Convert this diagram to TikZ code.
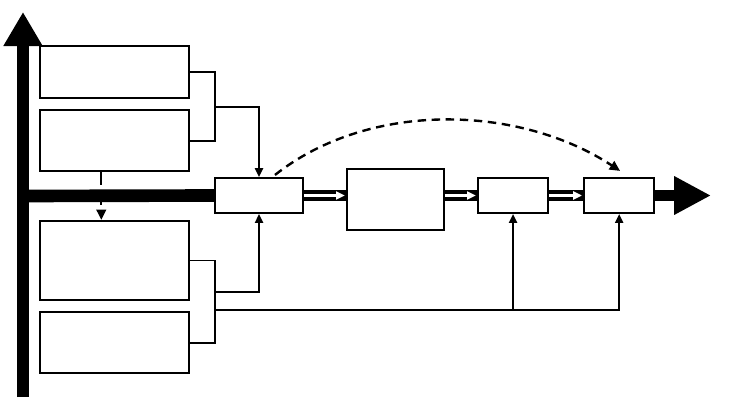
\documentclass[tikz,border=0pt]{standalone}
\usepackage{tikz}
\usetikzlibrary{arrows.meta,positioning,calc}
\tikzset{
  blk/.style={draw, line width=1.5pt, fill=white, inner sep=0pt},
  lbox/.style={blk, minimum width=3.725cm},
  sbox/.style={blk, minimum height=0.875cm},
  wire/.style={line width=1.4pt},
  feed/.style={-{Triangle[length=2.2mm, width=2mm]}, line width=1.4pt},
  axis/.style={line width=9pt},
  pipe/.style={line width=8pt},
  pipein/.style={white, line width=1.5pt, shorten >=0.8pt, -{Triangle[length=2.2mm, width=2mm]}},
  jump/.style={-{Triangle[length=2.6mm, width=2.4mm]}, line width=1.7pt, dash pattern=on 6pt off 4pt},
}

\begin{document}
\begin{tikzpicture}[x=0.025cm, y=-0.025cm]
  \useasboundingbox (0,0) rectangle (730,401);
  \coordinate (orig) at (23,196);
  \coordinate (ytop) at (23,12);
  \coordinate (ybot) at (23,397);
  \coordinate (xtip) at (711,195.5);
  % Left column
  \node[lbox, minimum height=1.3cm] (a) at (114.5,72) {};
  \node[lbox, minimum height=1.525cm, below=0.25cm of a] (b) {};
  \node[lbox, minimum height=1.975cm] (c) at (114.5,260.5) {};
  \node[lbox, minimum height=1.525cm, below=0.25cm of c] (d) {};
  % Chain on the axis
  \node[sbox, minimum width=2.2cm] (m) at (259,195.5) {};
  \node[blk, minimum width=2.425cm, minimum height=1.525cm] (b2) at (395.5,199.5) {};
  \node[sbox, minimum width=1.75cm] (b3) at (513,195.5) {};
  \node[sbox, minimum width=1.75cm, right=0.85cm of b3] (b4) {};
  % Axes
  \draw[jump, dash pattern=on 9pt off 5pt] ([xshift=-0.33cm]b.south) -- ([xshift=-0.33cm]c.north);
  \draw[axis, -{Triangle[length=0.85cm, width=0.92cm]}] (ybot) -- (ytop);
  \draw[axis] (orig) -- (m.west);
  \foreach \u/\v in {m/b2, b2/b3, b3/b4} {
    \draw[pipe] (\u.east |- m) -- (\v.west |- m);
    \draw[pipein] (\u.east |- m) -- (\v.west |- m);
  }
  \draw[pipe, -{Triangle[length=0.92cm, width=0.9cm]}] (b4.east) -- (xtip);
  % Upper feed
  \coordinate (jab) at (215,107);
  \draw[wire] (a.east) -| (jab) |- (b.east);
  \draw[feed] (jab) -| (m.north);
  % Lower feed
  \coordinate (jcd) at (215,292);
  \coordinate (jbus) at (215,310);
  \draw[wire] (c.east) -| (jcd) |- (d.east);
  \draw[feed] (jcd) -| (m.south);
  \draw[feed] (jbus) -| (b4.south);
  \draw[feed] (b3.south |- jbus) -- (b3.south);
  % Skip
  \draw[jump] ($(m.north)+(16,-2)$) .. controls (370,100) and (520,105) .. ($(b4.north)+(1,-6)$);
\end{tikzpicture}
\end{document}
